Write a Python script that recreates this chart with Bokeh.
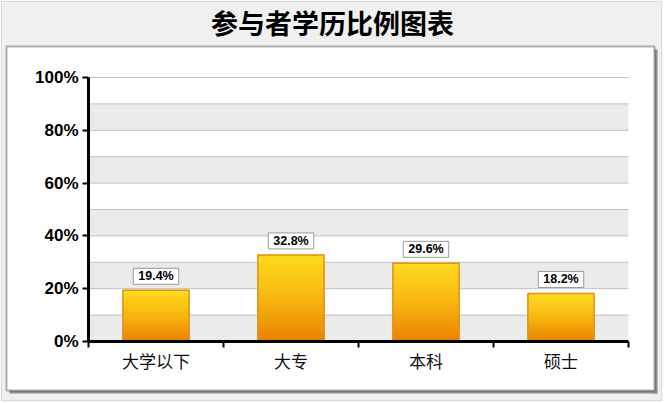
from bokeh.plotting import figure
from bokeh.models import (Range1d, FixedTicker, PrintfTickFormatter, Label,
                          BoxAnnotation)
from bokeh.embed import file_html
from bokeh.resources import INLINE

# --- data -------------------------------------------------------------
title_text = "参与者学历比例图表"
categories = ["大学以下", "大专", "本科", "硕士"]
shares = [19.4, 32.8, 29.6, 18.2]          # percent of participants
y_ticks = [0, 20, 40, 60, 80, 100]
band_ticks = [0, 10, 20, 30, 40, 50, 60, 70, 80, 90, 100]

# --- canvas geometry (pixels) -----------------------------------------
W, H = 664, 403
AX_LEFT, AX_RIGHT = 88, 628       # x of first / last category boundary
AX_BOTTOM, AX_TOP = 341, 77       # y of 0 % / 100 %
n_cat = len(categories)
PPX = (AX_RIGHT - AX_LEFT) / n_cat            # pixels per category
PPY = (AX_BOTTOM - AX_TOP) / 100.0            # pixels per percent

x0 = -AX_LEFT / PPX
x1 = (W - AX_LEFT) / PPX
y1 = AX_BOTTOM / PPY
y0 = (AX_BOTTOM - H) / PPY


def cx(px):
    return x0 + px / PPX


def cy(py):
    return y1 - py / PPY


p = figure(width=W, height=H, output_backend="svg", toolbar_location=None,
           x_range=Range1d(x0, x1), y_range=Range1d(y0, y1),
           min_border=0, min_border_left=0, min_border_right=0,
           min_border_top=0, min_border_bottom=0,
           border_fill_color="white", background_fill_color="white",
           outline_line_color=None)
p.title.visible = False
p.xgrid.visible = False
p.ygrid.visible = False

# --- card, title band and frame --------------------------------------
PANEL = "#f0f0f0"


def box(l, r, t, b, level="underlay", **kw):
    p.add_layout(BoxAnnotation(left=cx(l), right=cx(r), top=cy(t), bottom=cy(b),
                               level=level, **kw), "center")


box(0, 662, 0, 401, fill_color=PANEL, fill_alpha=1, line_color=None)
box(654, 657, 49, 393, fill_color="#8c8c8c", fill_alpha=1, line_color=None)
box(9, 657, 390, 393, fill_color="#8c8c8c", fill_alpha=1, line_color=None)
box(6, 654, 46, 390, fill_color="white", fill_alpha=1,
    line_color="black", line_width=2)
box(1, 661, 1, 400, fill_alpha=0, line_color="#a6a6a6", line_width=1)

# --- striped plot area ------------------------------------------------
band_mid = [(band_ticks[i] + band_ticks[i + 1]) / 2 for i in range(0, len(band_ticks) - 1, 2)]
band_h = [band_ticks[i + 1] - band_ticks[i] for i in range(0, len(band_ticks) - 1, 2)]
p.hbar(y=band_mid, height=band_h, left=0, right=n_cat,
       fill_color="#ebebeb", line_color=None)
p.segment(x0=[0] * len(band_ticks), x1=[n_cat] * len(band_ticks),
          y0=band_ticks, y1=band_ticks, line_color="#c2c2c2", line_width=1)

# --- bars with a vertical yellow-to-orange gradient -------------------
centers = [i + 0.5 for i in range(n_cat)]
top_rgb = (255, 218, 30)
mid_rgb = (248, 182, 16)
bot_rgb = (232, 128, 0)


def shade(t):
    # t = 0 at the bottom of a bar, 1 at its top
    if t < 0.5:
        a, b, u = bot_rgb, mid_rgb, t / 0.5
    else:
        a, b, u = mid_rgb, top_rgb, (t - 0.5) / 0.5
    return "#%02x%02x%02x" % tuple(int(round(a[k] + (b[k] - a[k]) * u)) for k in range(3))


N = 40
sx, sb, st, sc = [], [], [], []
for c, v in zip(centers, shares):
    for k in range(N):
        sx.append(c)
        sb.append(v * k / N)
        st.append(v * (k + 1) / N)
        sc.append(shade((k + 0.5) / N))

BAR_W = 0.49
p.vbar(x=sx, bottom=sb, top=st, width=BAR_W, fill_color=sc,
       line_color=sc, line_width=1)
p.vbar(x=centers, top=shares, width=BAR_W, fill_color=None,
       line_color="#e0921c", line_width=1.5)

# --- axes -------------------------------------------------------------
ya = p.yaxis[0]
ya.fixed_location = 0
ya.bounds = (0, 100)
ya.ticker = FixedTicker(ticks=y_ticks)
ya.formatter = PrintfTickFormatter(format="%d%%")
ya.axis_line_width = 3
ya.major_tick_line_width = 2
ya.major_tick_out = 6
ya.major_tick_in = 0
ya.minor_tick_line_color = None
ya.major_label_standoff = 4
ya.major_label_text_font = "Liberation Sans"
ya.major_label_text_font_size = "17px"
ya.major_label_text_font_style = "bold"
ya.major_label_text_color = "black"

xa = p.xaxis[0]
xa.fixed_location = 0
xa.bounds = (0, n_cat)
xa.ticker = FixedTicker(ticks=centers, minor_ticks=list(range(n_cat + 1)))
xa.major_label_overrides = {c: name for c, name in zip(centers, categories)}
xa.axis_line_width = 3
xa.major_tick_line_color = None
xa.major_tick_out = 0
xa.major_tick_in = 0
xa.minor_tick_line_color = "black"
xa.minor_tick_line_width = 2
xa.minor_tick_out = 6
xa.minor_tick_in = 0
xa.major_label_standoff = 0
xa.major_label_text_font = "Noto Sans CJK SC"
xa.major_label_text_font_size = "17px"
xa.major_label_text_color = "#111111"

# --- value labels in small white boxes --------------------------------
for c, v in zip(centers, shares):
    txt = f"{v:.1f}%"
    p.add_layout(Label(x=c, y=v, x_offset=1.5, y_offset=4.5, text=txt,
                       text_align="center", text_baseline="bottom",
                       text_font="Liberation Sans", text_font_size="12.5px",
                       text_font_style="bold", text_alpha=0,
                       background_fill_color="#b8b8b8", padding=(5, 1)),
                 "center")
    p.add_layout(Label(x=c, y=v, y_offset=6, text=txt,
                       text_align="center", text_baseline="bottom",
                       text_font="Liberation Sans", text_font_size="12.5px",
                       text_font_style="bold", text_color="black",
                       background_fill_color="white",
                       border_line_color="#9a9a9a", border_line_width=1,
                       padding=(5, 1)),
                 "center")

# --- chart title ------------------------------------------------------
p.add_layout(Label(x=cx(332), y=cy(22), text=title_text,
                   text_align="center", text_baseline="middle",
                   text_font="Noto Sans CJK SC", text_font_size="27px",
                   text_font_style="bold", text_color="black"), "center")

open("out.html", "w").write(file_html(p, INLINE))
